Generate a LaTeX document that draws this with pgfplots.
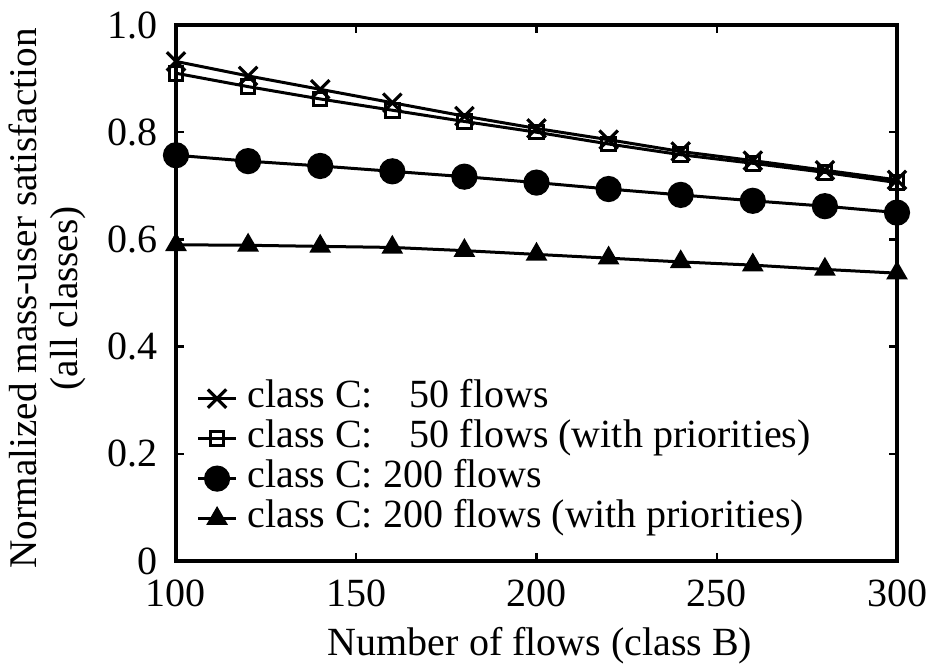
\documentclass[border=0pt]{standalone}
\usepackage{pgfplots}
\pgfplotsset{compat=1.18}
\usepackage{fontspec}
\setmainfont{Liberation Serif}
\begin{document}
\fontsize{20}{21}\selectfont
\begin{tikzpicture}
\begin{axis}[
  name=ax,
  scale only axis,
  width=360.5pt, height=268pt,
  xmin=100, xmax=300, ymin=0, ymax=1,
  xtick={100,150,200,250,300},
  ytick={0,0.2,0.4,0.6,0.8,1.0},
  yticklabels={0,0.2,0.4,0.6,0.8,1.0},
  tick align=inside,
  major tick length=4pt,
  tick style={line width=1.2pt, black},
  axis line style={line width=1.7pt},
  /pgf/number format/assume math mode=true,
  ticklabel style={font=\fontsize{20}{21}\selectfont},
  xticklabel style={yshift=-2.5pt},
  yticklabel style={xshift=-2.5pt},
  label style={font=\fontsize{20}{21}\selectfont},
  xlabel={Number of flows (class B)},
  xlabel style={at={(axis description cs:0.505,-0.177)}, anchor=base},
  ylabel={Normalized mass-user satisfaction\\(all classes)},
  ylabel style={align=center, at={(axis description cs:-0.178,0.49)}, anchor=center,
    font=\fontsize{19.6}{20.6}\selectfont},
  legend style={draw=none, fill=none, at={(0.028,0.341)}, anchor=north west,
    font=\fontsize{20}{21}\selectfont, row sep=0pt, inner sep=0pt,
    nodes={inner sep=0pt, text height=14.5pt, text depth=5.5pt}},
  legend cell align=left,
  legend image code/.code={
    \draw[#1] plot coordinates {(0pt,0pt) (9.5pt,0pt) (19pt,0pt)};
  },
  legend image post style={mark repeat=2, mark phase=2},
  every axis plot/.append style={line width=1.5pt, black},
]
\addplot[mark=x, mark size=6.5pt, mark options={line width=1.6pt}] coordinates {
(100,0.932) (120,0.905) (140,0.880) (160,0.855) (180,0.830) (200,0.807)
(220,0.786) (240,0.764) (260,0.747) (280,0.729) (300,0.711)};
\addlegendentry{\hspace{5pt}class C: \phantom{2}\,50 flows}
\addplot[mark=square, mark size=3.4pt, mark options={line width=1.5pt, fill=white}] coordinates {
(100,0.910) (120,0.885) (140,0.862) (160,0.841) (180,0.820) (200,0.800)
(220,0.778) (240,0.758) (260,0.742) (280,0.725) (300,0.706)};
\addlegendentry{\hspace{5pt}class C: \phantom{2}\,50 flows (with priorities)}
\addplot[mark=*, mark size=5.8pt] coordinates {
(100,0.757) (120,0.746) (140,0.737) (160,0.727) (180,0.717) (200,0.706)
(220,0.694) (240,0.683) (260,0.672) (280,0.662) (300,0.650)};
\addlegendentry{\hspace{5pt}class C: 200 flows}
\addplot[mark=triangle*, mark size=4.8pt] coordinates {
(100,0.590) (120,0.589) (140,0.587) (160,0.585) (180,0.579) (200,0.572)
(220,0.565) (240,0.558) (260,0.552) (280,0.544) (300,0.537)};
\addlegendentry{\hspace{5pt}class C: 200 flows (with priorities)}
\end{axis}
\pgfresetboundingbox
\path ([xshift=-88pt,yshift=-51.5pt]ax.south west) rectangle ([xshift=14.5pt,yshift=12.5pt]ax.north east);
\end{tikzpicture}
\end{document}
